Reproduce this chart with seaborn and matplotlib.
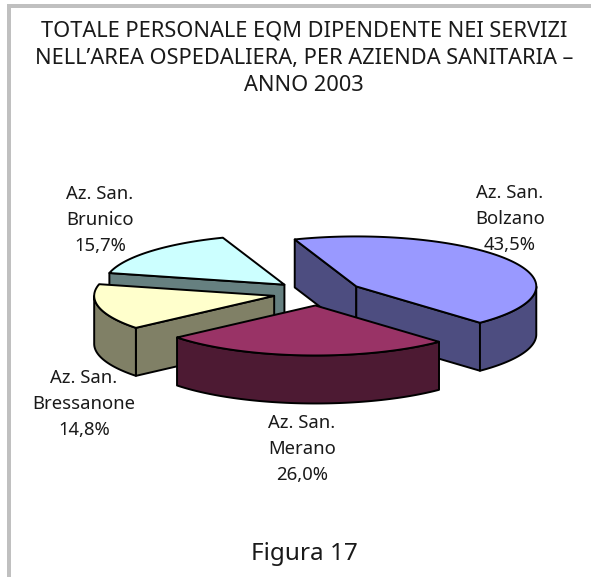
import numpy as np
import matplotlib
matplotlib.use("Agg")
import matplotlib.pyplot as plt
from matplotlib.patches import Polygon, Rectangle
import seaborn as sns

sns.set_theme(style="white")
plt.rcParams['font.family'] = ['Noto Sans', 'DejaVu Sans']

# --- data ---
categories = ["Az. San.\nBolzano", "Az. San.\nMerano", "Az. San.\nBressanone", "Az. San.\nBrunico"]
values = [43.5, 26.0, 14.8, 15.7]
title_lines = ["TOTALE PERSONALE EQM DIPENDENTE NEI SERVIZI",
               "NELL\u2019AREA OSPEDALIERA, PER AZIENDA SANITARIA \u2013",
               "ANNO 2003"]
caption = "Figura 17"
top_colors = ["#9999FF", "#993366", "#FFFFCC", "#CCFFFF"]

# --- layout ---
W, H = 591, 577
CX, CY = 318, 293
RX, RY = 180, 50
DEPTH = 48
EXPLODE = 0.25
START = 110.0
LW = 1.4
LINE_GAP = 26
label_pos = [(510, 224), (302, 454), (84, 409), (100, 225)]
draw_order = [3, 0, 2, 1]

palette = sns.color_palette(top_colors)
side_colors = [tuple(0.5 * c for c in col) for col in palette]

fig = plt.figure(figsize=(W / 100, H / 100), dpi=100)
ax = fig.add_axes([0, 0, 1, 1])
ax.set_xlim(0, W)
ax.set_ylim(H, 0)
ax.axis("off")

# frame
ax.add_patch(Rectangle((7, 4), W, 3.8, fc="#C0C0C0", ec="none"))
ax.add_patch(Rectangle((7, 4), 3.8, H, fc="#C0C0C0", ec="none"))

# slice angles derived from values
fracs = np.array(values) / np.sum(values)
ends = START - 360 * np.cumsum(fracs)
starts = np.r_[START, ends[:-1]]


def project(ox, oy, deg, z=0.0):
    t = np.radians(deg)
    return ox + RX * np.cos(t), oy - RY * np.sin(t) + z


def draw_slice(i):
    a0, a1 = starts[i], ends[i]
    mid = np.radians((a0 + a1) / 2)
    ox = CX + EXPLODE * RX * np.cos(mid)
    oy = CY - EXPLODE * RY * np.sin(mid)
    kw = dict(fc=side_colors[i], ec="black", lw=LW, joinstyle="round")

    # radial cut faces that look towards the viewer
    for deg, visible in ((a0, np.cos(np.radians(a0)) < 0), (a1, np.cos(np.radians(a1)) > 0)):
        if visible:
            px, py = project(ox, oy, deg)
            ax.add_patch(Polygon([(ox, oy), (px, py), (px, py + DEPTH), (ox, oy + DEPTH)], **kw))

    # outer rim, front half only
    th = np.linspace(a0, a1, 240)
    front = th[np.sin(np.radians(th)) < 0]
    if front.size:
        x, y = project(ox, oy, front)
        ax.add_patch(Polygon(np.r_[np.c_[x, y], np.c_[x[::-1], y[::-1] + DEPTH]], **kw))

    # top face
    x, y = project(ox, oy, th)
    ax.add_patch(Polygon(np.r_[[(ox, oy)], np.c_[x, y]], fc=palette[i], ec="black",
                         lw=LW, joinstyle="round"))


for i in draw_order:
    draw_slice(i)

TXT = "#1a1a1a"
for cat, val, (lx, ly) in zip(categories, values, label_pos):
    parts = cat.split("\n") + [f"{val:.1f}%".replace(".", ",")]
    for k, part in enumerate(parts):
        ax.text(lx, ly + (k - 1) * LINE_GAP, part, ha="center", va="baseline",
                fontsize=13.3, color=TXT)

for k, line in enumerate(title_lines):
    ax.text(304, 37 + 27 * k, line, ha="center", va="baseline", fontsize=15.7, color=TXT)
ax.text(304, 560, caption, ha="center", va="baseline", fontsize=17.5, color=TXT)

fig.savefig("out.png", dpi=100, facecolor="white")
